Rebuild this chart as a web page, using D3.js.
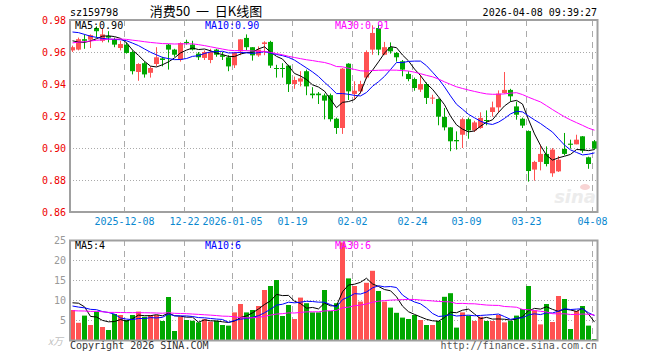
<!DOCTYPE html>
<html lang="zh">
<head>
<meta charset="UTF-8">
<title>消费50 日K线图</title>
<script src="https://cdnjs.cloudflare.com/ajax/libs/d3/7.8.5/d3.min.js"></script>
<style>
    body { margin: 0; background: #fff; }
    text { font-family: "DejaVu Sans Mono", monospace; font-size: 10px; }
</style>
</head>
<body>
<div id="chart"></div>
<script>
    // trading days shown (88 sessions)
    var dates = [
        "2025-11-25", "2025-11-26", "2025-11-27", "2025-11-28", "2025-12-01", "2025-12-02", "2025-12-03", "2025-12-04", "2025-12-05",
        "2025-12-08", "2025-12-09", "2025-12-10", "2025-12-11", "2025-12-12", "2025-12-15", "2025-12-16", "2025-12-17", "2025-12-18", "2025-12-19",
        "2025-12-22", "2025-12-23", "2025-12-24", "2025-12-25", "2025-12-26", "2025-12-29", "2025-12-30", "2025-12-31",
        "2026-01-05", "2026-01-06", "2026-01-07", "2026-01-08", "2026-01-09", "2026-01-12", "2026-01-13", "2026-01-14", "2026-01-15", "2026-01-16",
        "2026-01-19", "2026-01-20", "2026-01-21", "2026-01-22", "2026-01-23", "2026-01-26", "2026-01-27", "2026-01-28", "2026-01-29", "2026-01-30",
        "2026-02-02", "2026-02-03", "2026-02-04", "2026-02-05", "2026-02-06", "2026-02-09", "2026-02-10", "2026-02-11", "2026-02-12", "2026-02-13",
        "2026-02-24", "2026-02-25", "2026-02-26", "2026-02-27", "2026-03-02", "2026-03-03", "2026-03-04", "2026-03-05", "2026-03-06",
        "2026-03-09", "2026-03-10", "2026-03-11", "2026-03-12", "2026-03-13", "2026-03-16", "2026-03-17", "2026-03-18", "2026-03-19", "2026-03-20",
        "2026-03-23", "2026-03-24", "2026-03-25", "2026-03-26", "2026-03-27", "2026-03-30", "2026-03-31", "2026-04-01", "2026-04-02", "2026-04-03",
        "2026-04-07", "2026-04-08"
    ];

    var open = [
        0.961, 0.9615, 0.968, 0.9677, 0.975, 0.967, 0.970, 0.968, 0.9625,
        0.9646, 0.960, 0.9475, 0.953, 0.947, 0.9525, 0.956, 0.9646, 0.9615, 0.9552,
        0.9663, 0.9646, 0.959, 0.9563, 0.955, 0.9615, 0.958, 0.9567,
        0.9517, 0.9604, 0.9688, 0.963, 0.9579, 0.965, 0.9663, 0.950, 0.950, 0.9515,
        0.940, 0.9415, 0.948, 0.934, 0.934, 0.9329, 0.933, 0.9183, 0.9125, 0.9527,
        0.9338, 0.9354, 0.944, 0.9615, 0.975, 0.9583, 0.963, 0.9594, 0.9542, 0.9463,
        0.9431, 0.9365, 0.940, 0.931, 0.9306, 0.9194, 0.9129, 0.905, 0.9083,
        0.918, 0.911, 0.9125, 0.9175, 0.9225, 0.9254, 0.9344, 0.9363, 0.926, 0.9183,
        0.9106, 0.8865, 0.8913, 0.8963, 0.8842, 0.8854, 0.8994, 0.9027, 0.9023, 0.9073,
        0.8942, 0.9042
    ];
    var high = [
        0.964, 0.969, 0.971, 0.971, 0.976, 0.975, 0.973, 0.969, 0.967,
        0.966, 0.961, 0.953, 0.954, 0.951, 0.963, 0.957, 0.965, 0.962, 0.966,
        0.9677, 0.967, 0.960, 0.961, 0.962, 0.962, 0.960, 0.958,
        0.960, 0.968, 0.971, 0.963, 0.9635, 0.9667, 0.967, 0.952, 0.953, 0.952,
        0.9446, 0.948, 0.949, 0.938, 0.935, 0.934, 0.934, 0.919, 0.950, 0.953,
        0.9417, 0.942, 0.961, 0.9767, 0.977, 0.9663, 0.966, 0.960, 0.955, 0.948,
        0.944, 0.9458, 0.941, 0.9333, 0.931, 0.925, 0.913, 0.9104, 0.919,
        0.919, 0.917, 0.9223, 0.9235, 0.929, 0.936, 0.9475, 0.937, 0.929, 0.919,
        0.911, 0.892, 0.902, 0.901, 0.900, 0.895, 0.9094, 0.9052, 0.9083, 0.9075,
        0.8946, 0.905
    ];
    var low = [
        0.960, 0.961, 0.962, 0.9625, 0.969, 0.966, 0.966, 0.963, 0.961,
        0.959, 0.946, 0.942, 0.944, 0.944, 0.951, 0.951, 0.949, 0.957, 0.954,
        0.9646, 0.961, 0.955, 0.955, 0.953, 0.957, 0.955, 0.948,
        0.950, 0.958, 0.961, 0.9546, 0.957, 0.958, 0.950, 0.944, 0.944, 0.935,
        0.937, 0.9385, 0.933, 0.931, 0.9275, 0.9179, 0.9165, 0.9088, 0.9088, 0.930,
        0.930, 0.934, 0.943, 0.9583, 0.958, 0.958, 0.959, 0.954, 0.9448, 0.9417,
        0.9358, 0.935, 0.9275, 0.9275, 0.9142, 0.911, 0.898, 0.899, 0.900,
        0.9058, 0.910, 0.912, 0.9142, 0.9196, 0.922, 0.934, 0.929, 0.9177, 0.9125,
        0.879, 0.8796, 0.886, 0.8885, 0.882, 0.885, 0.8954, 0.8996, 0.9023, 0.897,
        0.887, 0.899
    ];
    var close = [
        0.963, 0.968, 0.967, 0.9705, 0.973, 0.971, 0.969, 0.9646, 0.965,
        0.9594, 0.948, 0.9525, 0.946, 0.950, 0.9567, 0.955, 0.9615, 0.9583, 0.9656,
        0.9656, 0.9615, 0.9567, 0.960, 0.960, 0.9583, 0.957, 0.951,
        0.9594, 0.9679, 0.963, 0.9579, 0.9615, 0.966, 0.9515, 0.9495, 0.9495, 0.940,
        0.9425, 0.9435, 0.9385, 0.933, 0.933, 0.9296, 0.918, 0.9125, 0.9496, 0.9354,
        0.9358, 0.940, 0.960, 0.9719, 0.9615, 0.963, 0.9604, 0.9567, 0.949, 0.9431,
        0.9375, 0.940, 0.9313, 0.9315, 0.9196, 0.9129, 0.9042, 0.9042, 0.918,
        0.911, 0.916, 0.9188, 0.917, 0.9254, 0.934, 0.9363, 0.9323, 0.9208, 0.914,
        0.8856, 0.8913, 0.8963, 0.890, 0.899, 0.8927, 0.8963, 0.902, 0.9052, 0.8983,
        0.890, 0.8996
    ];
    // volume, unit: 万
    var volume = [
        7.5, 4.3, 6.1, 3.75, 7.1, 3.25, 2.5, 6.5, 6.25,
        5.0, 6.25, 7.1, 5.8, 6.25, 6.25, 4.75, 10.75, 2.25, 5.8,
        5.0, 4.8, 4.4, 5.2, 4.6, 4.8, 3.75, 3.6,
        6.9, 9.0, 6.9, 7.5, 8.5, 12.5, 13.5, 15.0, 6.0, 8.75,
        5.25, 10.6, 9.2, 6.9, 6.9, 12.5, 7.25, 9.2, 24.4, 15.4,
        13.5, 9.6, 14.3, 17.3, 12.25, 9.6, 8.1, 6.8, 5.6, 5.25,
        6.25, 5.0, 3.75, 3.75, 4.75, 10.8, 11.7, 3.1, 6.9,
        6.1, 4.75, 5.8, 4.75, 4.75, 6.25, 4.4, 4.75, 6.1, 7.75,
        13.5, 7.4, 3.9, 9.0, 4.5, 11.0, 10.25, 2.75, 7.25, 8.5,
        3.6, 0.25
    ];

    // the 29 sessions before the window, only needed for the moving averages
    var prevClose = [
        0.955, 0.958, 0.957, 0.960, 0.962, 0.959, 0.961, 0.964, 0.966, 0.963,
        0.965, 0.962, 0.964, 0.967, 0.966, 0.963, 0.965, 0.962, 0.966, 0.961,
        0.972, 0.978, 0.982, 0.980, 0.978, 0.972, 0.968, 0.966, 0.966
    ];
    var prevVolume = [
        6, 7, 6.5, 7, 6, 7.5, 6.5, 7, 6, 6.5,
        7, 6.5, 7, 7.5, 6.5, 7, 6.5, 7, 6.5, 7.5,
        7, 8, 7.5, 8, 8, 4.8, 10.6, 15.75, 7.85
    ];

    var priceTicks = [0.98, 0.96, 0.94, 0.92, 0.90, 0.88, 0.86];
    var volumeTicks = [25, 20, 15, 10, 5];
    var axisDates = ["2025-12-08", "2025-12-22", "2026-01-05", "2026-01-19", "2026-02-02",
        "2026-02-24", "2026-03-09", "2026-03-23", "2026-04-08"];
    var axisLabels = ["2025-12-08", "12-22", "2026-01-05", "01-19", "02-02",
        "02-24", "03-09", "03-23", "04-08"];
    var maPeriods = [5, 10, 30];
    var maColors = ["#000000", "#0000ff", "#ff00ff"];

    var W = 660, H = 360;
    var left = 70, right = 598;
    var RED = "#ff5252", GREEN = "#00a800";

    var svg = d3.select("#chart").append("svg")
        .attr("width", W)
        .attr("height", H);

    var x = d3.scaleBand().domain(dates).range([left, right]).padding(0);
    var y = d3.scaleLinear().domain([0.86, 0.98]).range([212, 20]);
    var yv = d3.scaleLinear().domain([0, 25]).range([340, 240]);

    function movingAvg(prev, values, n) {
        var all = prev.concat(values);
        var off = prev.length;
        return values.map(function (v, i) {
            return d3.mean(all.slice(off + i - n + 1, off + i + 1));
        });
    }

    var priceMA = maPeriods.map(function (n) { return movingAvg(prevClose, close, n); });
    var volMA = maPeriods.map(function (n) { return movingAvg(prevVolume, volume, n); });

    var idx = d3.range(dates.length);
    var isUp = function (i) { return close[i] >= open[i]; };
    var cx = function (i) { return x(dates[i]) + 2.5; };

    // ---- header
    svg.append("text").attr("x", left).attr("y", 16).attr("fill", "#000").text("sz159798");
    svg.append("text").attr("x", 206).attr("y", 16)
        .attr("text-anchor", "middle")
        .style("font-family", "'Noto Sans CJK SC', sans-serif")
        .style("font-size", "13px")
        .style("white-space", "pre")
        .attr("fill", "#000")
        .text("消费50  一  日K线图");
    svg.append("text").attr("x", 597).attr("y", 16)
        .attr("text-anchor", "end").attr("fill", "#000")
        .text("2026-04-08 09:39:27");

    // ---- grids for both panels
    function grid(yScale, ticks, top, bottom) {
        svg.append("g").selectAll("line")
            .data(ticks.filter(function (t) { return yScale(t) > top + 1 && yScale(t) < bottom - 1; }))
            .join("line")
            .attr("x1", left).attr("x2", 597)
            .attr("y1", function (d) { return Math.round(yScale(d)) + 0.5; })
            .attr("y2", function (d) { return Math.round(yScale(d)) + 0.5; })
            .attr("stroke", "#aaaaaa")
            .attr("stroke-dasharray", "1,2");

        svg.append("g").selectAll("line")
            .data(axisDates)
            .join("line")
            .attr("x1", function (d) { return x(d) + 0.5; })
            .attr("x2", function (d) { return x(d) + 0.5; })
            .attr("y1", top).attr("y2", bottom)
            .attr("stroke", "#aaaaaa")
            .attr("stroke-dasharray", "6,5");
    }
    grid(y, priceTicks, 20, 212);
    grid(yv, volumeTicks, 240, 340);

    // sina watermark
    svg.append("text").attr("x", 596).attr("y", 203)
        .attr("text-anchor", "end")
        .style("font-family", "Verdana, 'DejaVu Sans', sans-serif")
        .style("font-size", "18px").style("font-style", "italic").style("font-weight", "bold")
        .attr("fill", "#ececec")
        .text("sina");
    svg.append("ellipse").attr("cx", 585).attr("cy", 187).attr("rx", 5).attr("ry", 3)
        .attr("fill", "#f8d4d4");

    // ---- candles
    var candles = svg.append("g");
    candles.selectAll("line")
        .data(idx)
        .join("line")
        .attr("x1", cx).attr("x2", cx)
        .attr("y1", function (i) { return y(high[i]); })
        .attr("y2", function (i) { return y(low[i]); })
        .attr("stroke", function (i) { return isUp(i) ? RED : GREEN; });

    candles.selectAll("rect")
        .data(idx)
        .join("rect")
        .attr("x", function (i) { return x(dates[i]); })
        .attr("width", 5)
        .attr("y", function (i) { return y(Math.max(open[i], close[i])); })
        .attr("height", function (i) { return Math.max(1, Math.abs(y(open[i]) - y(close[i]))); })
        .attr("fill", function (i) { return isUp(i) ? RED : GREEN; });

    // ---- volume bars
    svg.append("g").selectAll("rect")
        .data(idx)
        .join("rect")
        .attr("x", function (i) { return x(dates[i]); })
        .attr("width", 5)
        .attr("y", function (i) { return yv(volume[i]); })
        .attr("height", function (i) { return yv(0) - yv(volume[i]); })
        .attr("fill", function (i) { return isUp(i) ? RED : GREEN; });

    // ---- moving average lines
    function maLines(series, yScale) {
        series.forEach(function (s, k) {
            var line = d3.line()
                .x(function (d, i) { return cx(i); })
                .y(function (d) { return yScale(d); });
            svg.append("path")
                .datum(s)
                .attr("d", line)
                .attr("fill", "none")
                .attr("stroke", maColors[k])
                .attr("stroke-width", 1);
        });
    }
    maLines(priceMA, y);
    maLines(volMA, yv);

    // ---- frames
    svg.append("rect").attr("x", 70).attr("y", 20).attr("width", 527.5).attr("height", 192)
        .attr("fill", "none").attr("stroke", "#a0a0a0").attr("stroke-width", 2);
    svg.append("rect").attr("x", 70).attr("y", 240.5).attr("width", 527.5).attr("height", 100)
        .attr("fill", "none").attr("stroke", "#a0a0a0").attr("stroke-width", 2);

    // ---- axes
    var fmtPrice = d3.format(".2f");
    var ax = svg.append("g")
        .attr("transform", "translate(" + left + ",0)")
        .call(d3.axisLeft(y).tickValues(priceTicks).tickFormat(fmtPrice).tickSize(0).tickPadding(4));
    ax.select(".domain").remove();
    ax.selectAll("text").attr("fill", "#ee0000")
        .style("font-family", "'DejaVu Sans Mono', monospace").style("font-size", "10px");

    var av = svg.append("g")
        .attr("transform", "translate(" + left + ",0)")
        .call(d3.axisLeft(yv).tickValues(volumeTicks).tickSize(0).tickPadding(4));
    av.select(".domain").remove();
    av.selectAll("text").attr("fill", "#999999")
        .style("font-family", "'DejaVu Sans Mono', monospace").style("font-size", "10px");

    var ad = svg.append("g")
        .attr("transform", "translate(-2.5,212)")
        .call(d3.axisBottom(x).tickValues(axisDates).tickSize(0).tickPadding(6)
            .tickFormat(function (d) { return axisLabels[axisDates.indexOf(d)]; }));
    ad.select(".domain").remove();
    ad.selectAll("text").attr("fill", "#0a88d0")
        .style("font-family", "'DejaVu Sans Mono', monospace").style("font-size", "10px");

    // ---- legends
    var last = dates.length - 1;
    var legendX = [75, 205, 335];
    maPeriods.forEach(function (n, k) {
        svg.append("text").attr("x", legendX[k]).attr("y", 29)
            .attr("fill", maColors[k])
            .text("MA" + n + ":" + fmtPrice(priceMA[k][last]));
        svg.append("text").attr("x", legendX[k]).attr("y", 249)
            .attr("fill", maColors[k])
            .text("MA" + n + ":" + Math.floor(volMA[k][last]));
    });

    // ---- footer
    svg.append("text").attr("x", 63).attr("y", 345).attr("text-anchor", "end")
        .attr("fill", "#c0c0c0").style("font-style", "italic")
        .style("font-family", "'Noto Sans CJK SC', sans-serif").style("font-size", "10px")
        .text("x万");
    svg.append("text").attr("x", left).attr("y", 349).attr("fill", "#333333")
        .text("Copyright 2026 SINA.COM");
    svg.append("text").attr("x", 597).attr("y", 349).attr("text-anchor", "end")
        .attr("fill", "#555555")
        .text("http://finance.sina.com.cn");
</script>
</body>
</html>
